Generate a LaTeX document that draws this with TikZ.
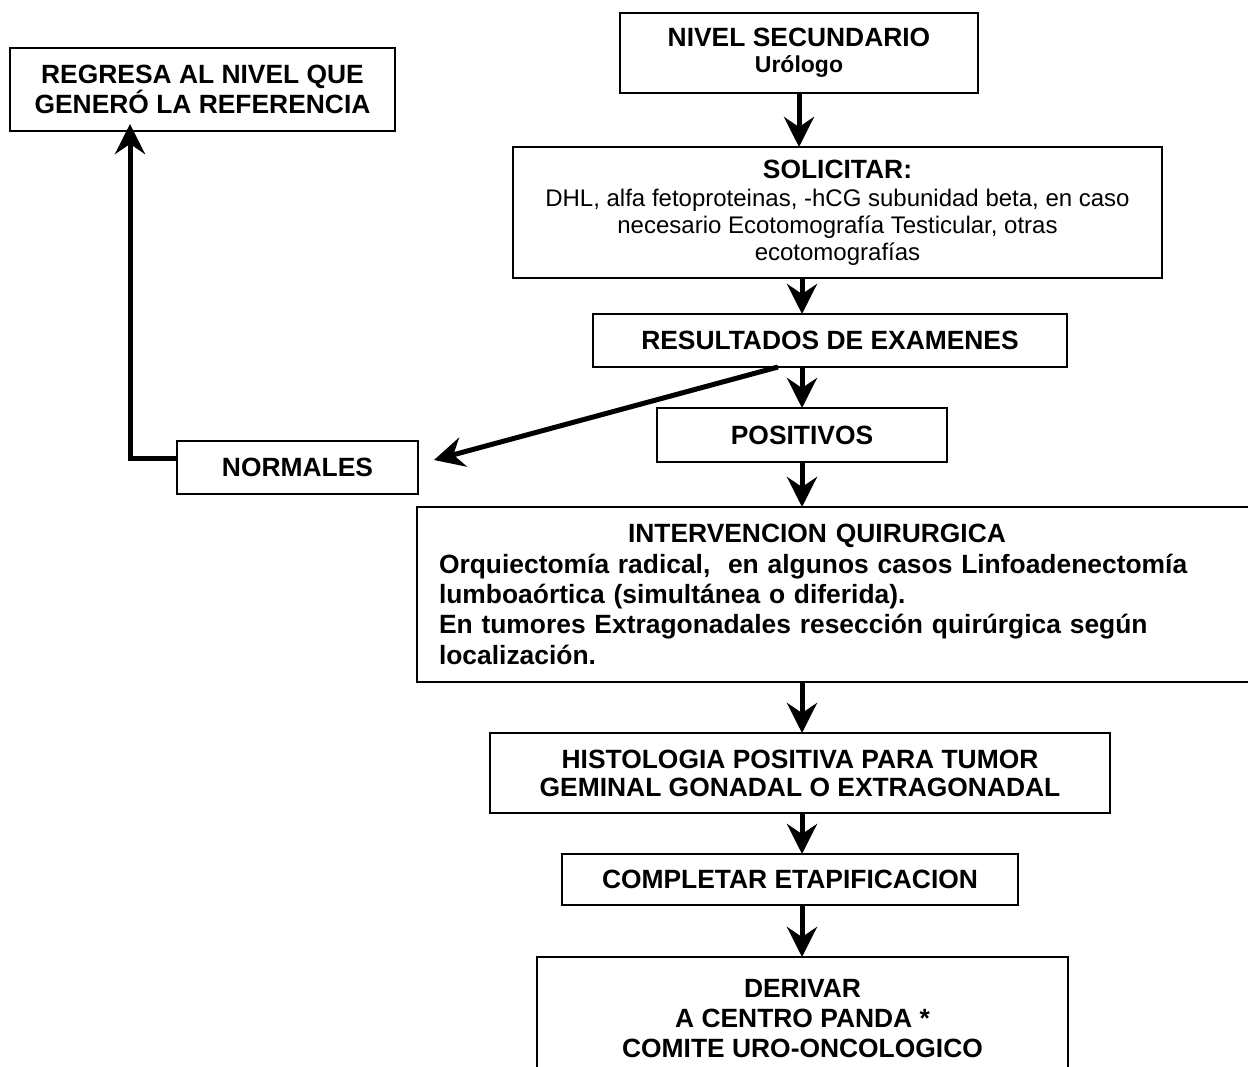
\documentclass[tikz,border=0pt]{standalone}
\usepackage{fontspec}
\setmainfont{Liberation Sans}
\usetikzlibrary{positioning}
\usetikzlibrary{arrows.meta}

\begin{document}
\begin{tikzpicture}[x=0.5pt,y=-0.5pt,>={Stealth[length=15pt,width=15pt,inset=5pt]},
	box/.style={draw=black,
		rectangle,
		line width=0.9pt,
		inner sep=0pt,
		outer sep=0pt,
		align=center,
		font=\fontsize{13.2}{14}\selectfont\bfseries},
	flow/.style={->,line width=2.5pt}]
	\useasboundingbox (0,0) rectangle (1248,1066);
	\node[box,minimum width=179pt,minimum height=40pt] (nivel) at (799,53) {NIVEL SECUNDARIO\\[-1pt]{\fontsize{11.5}{13}\selectfont Urólogo}};
	\node[box,minimum width=192.5pt,minimum height=41.5pt] (regresa) at (202.5,89.5) {REGRESA AL NIVEL QUE\\GENERÓ LA REFERENCIA};
	\node[box,minimum width=324.5pt,minimum height=65.5pt,below=27pt of nivel,xshift=19.25pt] (solicitar) {SOLICITAR:\\{\mdseries\fontsize{12}{13.5}\selectfont DHL, alfa fetoproteinas, -hCG subunidad beta, en caso}\\[-0.5pt]{\mdseries\fontsize{12}{13.5}\selectfont necesario Ecotomografía Testicular, otras}\\[-0.5pt]{\mdseries\fontsize{12}{13.5}\selectfont ecotomografías}};
	\node[box,minimum width=237pt,minimum height=26.5pt,below=18pt of solicitar,xshift=-3.75pt] (resultados) {RESULTADOS DE EXAMENES};
	\node[box,minimum width=145pt,minimum height=27pt,below=20.5pt of resultados,xshift=-14pt] (positivos) {POSITIVOS};
	\node[box,minimum width=120.5pt,minimum height=26.5pt] (normales) at (297.5,467.5) {NORMALES};
	\node[box,align=left,text width=410pt,inner xsep=11pt,minimum height=87.5pt,below=22.5pt of positivos,xshift=23.5pt,font=\fontsize{13.2}{15.2}\selectfont\bfseries] (intervencion) {\makebox[378pt][c]{INTERVENCION QUIRURGICA}\\
		Orquiectomía radical,\ \ en algunos casos Linfoadenectomía\\
		lumboaórtica (simultánea o diferida).\\
		En tumores Extragonadales resección quirúrgica según\\
		localización.};
	\node[box,minimum width=310pt,minimum height=40pt,below=25.5pt of intervencion,xshift=-24.5pt] (histologia) {HISTOLOGIA POSITIVA PARA TUMOR\\GEMINAL GONADAL O EXTRAGONADAL};
	\node[box,minimum width=228pt,minimum height=25.5pt,below=20.5pt of histologia,xshift=-5pt] (completar) {COMPLETAR ETAPIFICACION};
	\node[box,minimum width=265.5pt,minimum height=61.5pt,below=26pt of completar,xshift=6.25pt] (derivar) {DERIVAR\\[1pt]A CENTRO PANDA *\\[1pt]COMITE URO-ONCOLOGICO};
	\draw[flow] (nivel.south) -- (nivel.south |- solicitar.north);
	\draw[flow] (solicitar.south -| positivos) -- (resultados.north -| positivos);
	\draw[flow] (resultados.south -| positivos) -- (positivos.north);
	\draw[flow] (positivos.south) -- (positivos.south |- intervencion.north);
	\draw[flow] (intervencion.south -| positivos) -- (histologia.north -| positivos);
	\draw[flow] (histologia.south -| positivos) -- (completar.north -| positivos);
	\draw[flow] (completar.south -| positivos) -- (derivar.north -| positivos);
	\draw[flow] ([xshift=-26pt]resultados.south) -- ([xshift=8pt,yshift=3.75pt]normales.east);
	\draw[flow,shorten >=-3.5pt] ([yshift=4.75pt]normales.west) -| ([xshift=-36.25pt]regresa.south);
\end{tikzpicture}
\end{document}
